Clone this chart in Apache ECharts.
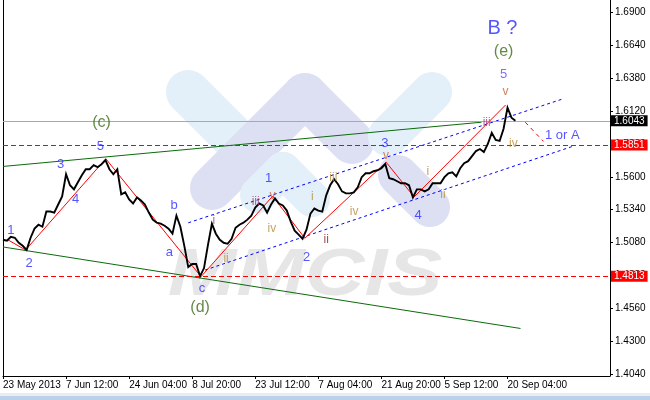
<!DOCTYPE html>
<html><head><meta charset="utf-8">
<script src="https://cdn.jsdelivr.net/npm/echarts@6/dist/echarts.min.js"></script>
<style>html,body{margin:0;padding:0;background:#fff}#c{width:650px;height:400px}</style>
</head><body><div id="c"></div><script>
// ---- data ----
const tickLabels = ['23 May 2013','7 Jun 12:00','24 Jun 04:00','8 Jul 20:00','23 Jul 12:00','7 Aug 04:00','21 Aug 20:00','5 Sep 12:00','20 Sep 04:00'];
const tickIdx = [0,16,32,48,64,80,96,112,128];
const priceTicks = [1.404,1.430,1.456,1.482,1.508,1.534,1.560,1.586,1.612,1.638,1.664,1.690];
const closes = [1.5102,1.5094,1.5126,1.5118,1.5078,1.5054,1.5022,1.5118,1.5190,1.5221,
 1.5205,1.5325,1.5325,1.5317,1.5381,1.5445,1.5620,1.5533,1.5501,1.5557,
 1.5612,1.5660,1.5660,1.5692,1.5676,1.5700,1.5732,1.5660,1.5620,1.5660,
 1.5461,1.5477,1.5421,1.5389,1.5437,1.5413,1.5381,1.5317,1.5261,1.5237,
 1.5229,1.5213,1.5190,1.5150,1.5293,1.5205,1.5054,1.4886,1.4910,1.4910,
 1.4813,1.4878,1.5062,1.5229,1.5150,1.5102,1.5078,1.5070,1.5110,1.5197,
 1.5221,1.5237,1.5261,1.5293,1.5357,1.5389,1.5373,1.5317,1.5381,1.5429,
 1.5389,1.5373,1.5333,1.5245,1.5174,1.5142,1.5110,1.5182,1.5309,1.5349,
 1.5333,1.5325,1.5453,1.5533,1.5581,1.5541,1.5485,1.5469,1.5469,1.5477,
 1.5517,1.5597,1.5628,1.5628,1.5644,1.5652,1.5668,1.5700,1.5589,1.5581,
 1.5565,1.5549,1.5549,1.5533,1.5437,1.5501,1.5501,1.5485,1.5501,1.5549,
 1.5549,1.5549,1.5597,1.5628,1.5636,1.5604,1.5668,1.5708,1.5724,1.5764,
 1.5804,1.5820,1.5796,1.5860,1.5948,1.5892,1.5884,1.5980,1.6147,1.6068,
 1.6043];
const levelCurrent = 1.6043;
const levelsRed = [1.5851, 1.4813];
// wave path pivots (bar index, price)
const waveIdx = [1.26,5.73,26.08,50.24,68.42,76.57,97.2,104.3,127.5];
const wavePrice = [1.5101,1.5021,1.5743,1.4810,1.5447,1.5114,1.5716,1.5441,1.6168];
// trend lines (bar index pairs, price pairs)
const greenUpperIdx = [0,121.4], greenUpperPrice = [1.5682,1.6032];
const greenLowerIdx = [0,131.3], greenLowerPrice = [1.5045,1.4400];
const blueUpperIdx = [47.0,141.9], blueUpperPrice = [1.5236,1.6215];
const blueLowerIdx = [51.25,144.9], blueLowerPrice = [1.4862,1.5845];
const projIdx = [132.5,137.1], projPrice = [1.6032,1.5881];
// wave labels
const annText  = ['1','2','3','4','5','(c)','a','b','c','(d)','i','ii','iii','v','iv','1','2','i','ii','iii','iv','v','3','4','i','ii','iii','iv','v','5','(e)','B ?','1 or A'];
const annIdx   = [2.0,6.6,14.6,18.4,24.7,25.0,42.2,43.4,50.5,50.0,53.5,56.6,64.1,68.4,68.2,67.4,77.0,78.5,82.0,83.8,89.1,97.2,96.9,105.3,107.8,111.6,122.7,129.5,127.5,127.0,127.0,126.7,141.9];
const annPrice = [1.5172,1.4918,1.5698,1.5419,1.5841,1.6032,1.5005,1.5371,1.4719,1.4567,1.5252,1.4949,1.5403,1.5451,1.5188,1.5586,1.4965,1.5443,1.5101,1.5594,1.5324,1.5770,1.5865,1.5292,1.5642,1.5459,1.6032,1.5865,1.6271,1.6414,1.6590,1.6773,1.5929];
const annKind  = ['num','num','num','num','num','deg','num','num','num','deg','romp','rom','romp','v','rom','num','num','rom','romr','rom','rom','v','num','num','rom','rom','romp','rom','v','top5','deg','big','num'];

// ---- styles ----
const FONT = '"Liberation Sans", Arial, sans-serif';
const X_MAX = 154, Y_MIN = 1.4024, Y_MAX = 1.6999;
const kindStyle = {
  num:  {color:'#2b2bff', size:13},
  deg:  {color:'#3d6b16', size:16},
  big:  {color:'#2b2bff', size:20},
  top5: {color:'#5a4dff', size:13},
  rom:  {color:'#b98a3a', size:12},
  romp: {color:'#a0407a', size:12},
  romr: {color:'#8b1c1c', size:12},
  v:    {color:'#c0603a', size:12}
};
const pairs = (xs, ys) => xs.map((x, i) => [x, ys[i]]);
function lineSeries(pts, color, type, width, z) {
  return {type:'line', data:pts, symbol:'none', silent:true, animation:false,
          lineStyle:{color:color, width:width, type:type}, z:z};
}
function bar(x1, y1, x2, y2, w, color) {
  const cx = (x1 + x2) / 2, cy = (y1 + y2) / 2;
  const len = Math.hypot(x2 - x1, y2 - y1) + w;
  const a = Math.atan2(y2 - y1, x2 - x1);
  return {type:'rect', x:cx, y:cy, rotation:-a, z:-10, silent:true,
          shape:{x:-len/2, y:-w/2, width:len, height:w, r:w/2}, style:{fill:color}};
}
const LB = '#e3f0f9', LV = '#dde0f3';

const series = [];
series.push(lineSeries(pairs(greenUpperIdx, greenUpperPrice), '#0b6b0b', 'solid', 1, 2));
series.push(lineSeries(pairs(greenLowerIdx, greenLowerPrice), '#0b6b0b', 'solid', 1, 2));
series.push(lineSeries(pairs(blueUpperIdx, blueUpperPrice), '#0000ff', [3,3], 1, 2));
series.push(lineSeries(pairs(blueLowerIdx, blueLowerPrice), '#0000ff', [3,3], 1, 2));
series.push(lineSeries(pairs(waveIdx, wavePrice), '#ff0000', 'solid', 1, 3));
series.push(lineSeries(pairs(projIdx, projPrice), '#ff0000', [4,4], 1, 3));
const lvlLabel = (bg) => ({show:true, position:'end', distance:1, formatter:'{c}', color:'#fff',
  backgroundColor:bg, padding:[1,3,0,3], fontSize:10, fontFamily:FONT, lineHeight:10});
series.push({
  type:'line', data:closes.map((p, i) => [i, p]), symbol:'none', silent:true, animation:false,
  lineStyle:{color:'#000', width:1.9, join:'miter'}, z:5,
  markLine:{silent:true, symbol:'none', animation:false, precision:4,
    data:[
      {yAxis:levelCurrent, lineStyle:{color:'#a9a9a9', type:'solid', width:1}, label:Object.assign(lvlLabel('#000'), {formatter: levelCurrent.toFixed(4)})},
      {yAxis:levelsRed[0], lineStyle:{color:'#ff0000', type:[5,3], width:1}, label:Object.assign(lvlLabel('#ff0000'), {formatter: levelsRed[0].toFixed(4)})},
      {yAxis:levelsRed[1], lineStyle:{color:'#ff0000', type:[5,3], width:1}, label:Object.assign(lvlLabel('#ff0000'), {formatter: levelsRed[1].toFixed(4)})}
    ]}
});
Object.keys(kindStyle).forEach(k => {
  const st = kindStyle[k];
  const d = [];
  annText.forEach((t, i) => { if (annKind[i] === k) d.push({name:t, value:[annIdx[i], annPrice[i]]}); });
  series.push({type:'scatter', data:d, symbolSize:1, itemStyle:{color:'rgba(0,0,0,0)'}, silent:true, z:6,
    label:{show:true, position:'inside', formatter:'{b}', color:st.color, fontSize:st.size, fontFamily:FONT}});
});

const option = {
  animation:false,
  backgroundColor:'#fff',
  grid:{left:0, right:40, top:0, bottom:24},
  graphic:[
    bar(188,92, 248,152, 44, LB),
    bar(305,95, 212,188, 44, LV),
    bar(305,95, 352,142, 44, LV),
    bar(283,170, 258,195, 36, LB),
    bar(283,170, 312,199, 36, LB),
    bar(432,92, 388,136, 40, LB),
    bar(398,175, 430,207, 40, LV),
    {type:'text', x:305, y:277, z:-9, silent:true, scaleX:1.23,
     style:{text:'MMCIS', fill:'#e6e6e6', font:'italic bold 67px "Liberation Sans", Arial, sans-serif', align:'center', verticalAlign:'middle'}},
    {type:'rect', shape:{x:0, y:393, width:650, height:3}, style:{fill:'#ececec'}, silent:true},
    {type:'rect', shape:{x:0, y:396, width:650, height:4}, style:{fill:'#b9d1ea'}, silent:true}
  ],
  xAxis:{type:'value', min:0, max:X_MAX,
    axisLine:{show:true, onZero:false, lineStyle:{color:'#000', width:1}},
    axisTick:{show:true, length:3, customValues:tickIdx, lineStyle:{color:'#000'}},
    axisLabel:{show:true, customValues:tickIdx, align:'left', margin:4, fontSize:10, fontFamily:FONT, color:'#000',
      formatter:v => { const k = tickIdx.indexOf(Math.round(v)); return k >= 0 ? tickLabels[k] : ''; }},
    splitLine:{show:false}},
  yAxis:[
    {type:'value', position:'right', min:Y_MIN, max:Y_MAX,
     axisLine:{show:true, onZero:false, lineStyle:{color:'#000'}},
     axisTick:{show:true, length:3, customValues:priceTicks, lineStyle:{color:'#000'}},
     axisLabel:{customValues:priceTicks, formatter:v => v.toFixed(4), margin:5, fontSize:10, fontFamily:FONT, color:'#000'},
     splitLine:{show:false}},
    {type:'value', position:'left', min:Y_MIN, max:Y_MAX,
     axisLine:{show:true, onZero:false, lineStyle:{color:'#000'}},
     axisTick:{show:false}, axisLabel:{show:false}, splitLine:{show:false}}
  ],
  series:series
};
const chart = echarts.init(document.getElementById('c'), null, {renderer:'canvas'});
chart.setOption(option);
</script></body></html>
